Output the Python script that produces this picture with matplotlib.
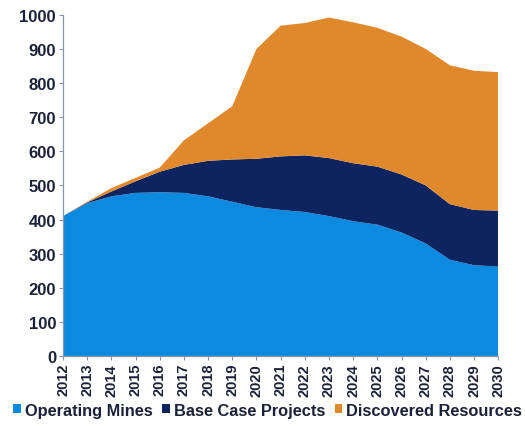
import matplotlib

matplotlib.use("Agg")

import matplotlib.pyplot as plt
from matplotlib.patches import Patch
import numpy as np

YEARS = list(range(2012, 2031))
OPERATING_MINES = [410, 448, 468, 478, 480, 478, 468, 452, 436, 428, 422, 410, 395, 385, 362, 330, 282, 266, 262]
BASE_CASE_TOTAL = [410, 450, 482, 512, 540, 560, 572, 576, 578, 585, 588, 580, 565, 555, 532, 500, 445, 428, 426]
DISCOVERED_TOTAL = [410, 452, 492, 522, 552, 632, 682, 732, 900, 968, 976, 992, 978, 962, 936, 900, 852, 836, 832]
SERIES_NAMES = ["Operating Mines", "Base Case Projects", "Discovered Resources"]
COLORS = ["#0b8ae0", "#0d2461", "#e0892c"]
TEXT_COLOR = "#1b2238"

plt.rcParams["font.family"] = ["Liberation Sans", "DejaVu Sans"]
plt.rcParams["font.weight"] = "bold"

years = np.array(YEARS)
operating = np.array(OPERATING_MINES, dtype=float)
base_case = np.array(BASE_CASE_TOTAL, dtype=float) - operating
discovered = np.array(DISCOVERED_TOTAL, dtype=float) - np.array(BASE_CASE_TOTAL, dtype=float)

fig = plt.figure(figsize=(5.25, 4.27), dpi=100)
ax = fig.add_axes([0.12, 0.164, 0.829, 0.799])

ax.stackplot(years, operating, base_case, discovered, colors=COLORS, linewidth=0)

ax.set_xlim(2012, 2030)
ax.set_ylim(0, 1000)
ax.set_xticks(years)
ax.set_xticklabels([str(y) for y in YEARS], rotation=90, fontsize=10.5,
                   fontweight="bold", color=TEXT_COLOR)
ax.set_yticks(np.arange(0, 1001, 100))
ax.set_yticklabels([str(v) for v in range(0, 1001, 100)], fontsize=12,
                   fontweight="bold", color=TEXT_COLOR)
ax.tick_params(axis="both", length=3, width=0.8, color="#8a96a8", pad=2)

for side in ("top", "right"):
    ax.spines[side].set_visible(False)
for side in ("left", "bottom"):
    ax.spines[side].set_color("#8a96a8")
    ax.spines[side].set_linewidth(0.9)

handles = [Patch(facecolor=c, edgecolor="none") for c in COLORS]
fig.legend(handles, SERIES_NAMES, loc="lower center", bbox_to_anchor=(0.51, -0.015),
           ncol=3, frameon=False, handlelength=0.45, handleheight=0.45,
           handletextpad=0.25, columnspacing=0.6,
           prop={"size": 11.8, "weight": "bold"}, labelcolor=TEXT_COLOR)

fig.savefig("out.png", dpi=100)
